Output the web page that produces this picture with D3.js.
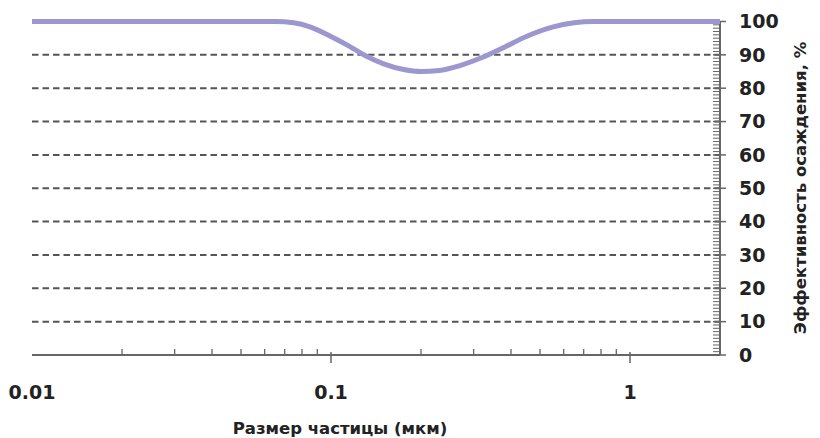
<!DOCTYPE html>
<html>
<head>
<meta charset="utf-8">
<script src="https://cdn.jsdelivr.net/npm/d3@7"></script>
<style>
  html, body { margin: 0; padding: 0; background: #fff; }
  svg { display: block; }
  text { font-family: "DejaVu Sans", Verdana, sans-serif; fill: #222; }
</style>
</head>
<body>
<svg id="chart" width="820" height="438"></svg>
<script>
// Data
const particleSize = [0.01, 0.05, 0.065, 0.075, 0.085, 0.1, 0.115, 0.13, 0.15, 0.175, 0.2, 0.23, 0.27, 0.32, 0.38, 0.45, 0.55, 0.65, 0.75, 2];
const efficiency   = [100, 100, 100, 99.6, 98.4, 95.5, 92.6, 89.8, 87.3, 85.6, 85.0, 85.3, 86.8, 89.2, 92.3, 95.5, 98.3, 99.6, 100, 100];
const xTickValues = [0.01, 0.1, 1];
const xTickLabels = ["0.01", "0.1", "1"];
const yTickValues = [0, 10, 20, 30, 40, 50, 60, 70, 80, 90, 100];
const xTitle = "Размер частицы (мкм)";
const yTitle = "Эффективность осаждения, %";

(function () {
const svg = d3.select("#chart");
const mLeft = 32, mRight = 720, mTop = 21.5, mBottom = 355;

const x = d3.scaleLog().domain([0.01, 2]).range([mLeft, mRight]);
const y = d3.scaleLinear().domain([0, 100]).range([mBottom, mTop]);

// dashed grid
svg.append("g").selectAll("line")
  .data(yTickValues.filter(v => v > 0 && v < 100))
  .join("line")
  .attr("x1", mLeft).attr("x2", mRight)
  .attr("y1", d => y(d)).attr("y2", d => y(d))
  .attr("stroke", "#555").attr("stroke-width", 2)
  .attr("stroke-dasharray", "6.5,4");

// x axis line
svg.append("line")
  .attr("x1", mLeft).attr("x2", mRight)
  .attr("y1", y(0)).attr("y2", y(0))
  .attr("stroke", "#666").attr("stroke-width", 2);

// x minor ticks
const minorX = [];
[0.01, 0.1].forEach(dec => { for (let k = 2; k <= 9; k++) minorX.push(dec * k); });
svg.append("g").selectAll("line")
  .data(minorX).join("line")
  .attr("x1", d => x(d)).attr("x2", d => x(d))
  .attr("y1", y(0) - 6).attr("y2", y(0))
  .attr("stroke", "#666").attr("stroke-width", 1.3);
// x major ticks
svg.append("g").selectAll("line")
  .data(xTickValues.filter(v => v > 0.01)).join("line")
  .attr("x1", d => x(d)).attr("x2", d => x(d))
  .attr("y1", y(0) - 3).attr("y2", y(0) + 8)
  .attr("stroke", "#666").attr("stroke-width", 1.5);
// x labels
svg.append("g").selectAll("text")
  .data(xTickValues).join("text")
  .attr("x", d => x(d)).attr("y", 399)
  .attr("text-anchor", "middle")
  .attr("font-size", 19).attr("font-weight", "bold")
  .text((d, i) => xTickLabels[i]);

// right axis line
svg.append("line")
  .attr("x1", mRight).attr("x2", mRight)
  .attr("y1", y(100)).attr("y2", y(0))
  .attr("stroke", "#666").attr("stroke-width", 2);
// right minor ticks
svg.append("g").selectAll("line")
  .data(d3.range(1, 100).filter(v => v % 10 !== 0)).join("line")
  .attr("x1", mRight - 7).attr("x2", mRight)
  .attr("y1", d => y(d)).attr("y2", d => y(d))
  .attr("stroke", "#666").attr("stroke-width", 1);
// right major ticks
svg.append("g").selectAll("line")
  .data(yTickValues).join("line")
  .attr("x1", mRight - 7).attr("x2", mRight + 6)
  .attr("y1", d => y(d)).attr("y2", d => y(d))
  .attr("stroke", "#666").attr("stroke-width", 1.5);
// right labels
svg.append("g").selectAll("text")
  .data(yTickValues).join("text")
  .attr("x", 739).attr("y", d => y(d))
  .attr("dy", "0.36em")
  .attr("font-size", 19).attr("font-weight", "bold")
  .text(d => d);

// curve
const pts = particleSize.map((s, i) => [s, efficiency[i]]);
const line = d3.line().x(d => x(d[0])).y(d => y(d[1])).curve(d3.curveMonotoneX);
svg.append("path")
  .datum(pts)
  .attr("d", line)
  .attr("fill", "none")
  .attr("stroke", "#9c98cf")
  .attr("stroke-width", 5)
  .attr("stroke-linecap", "butt");

// titles
svg.append("text")
  .attr("x", 340).attr("y", 434)
  .attr("text-anchor", "middle")
  .attr("font-size", 16.5).attr("font-weight", "bold")
  .text(xTitle);
svg.append("text")
  .attr("transform", "translate(806,188) rotate(-90)")
  .attr("text-anchor", "middle")
  .attr("font-size", 16.5).attr("font-weight", "bold")
  .text(yTitle);
})();
</script>
</body>
</html>
